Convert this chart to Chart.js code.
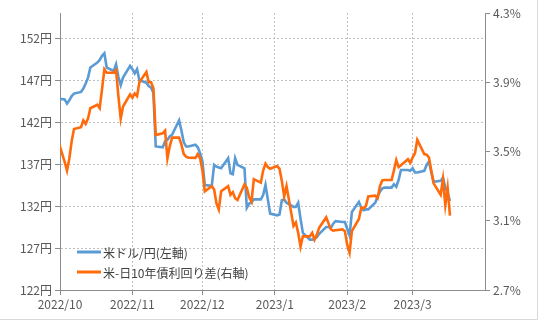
<!DOCTYPE html>
<html><head><meta charset="utf-8">
<script src="https://cdn.jsdelivr.net/npm/chart.js@4.4.1/dist/chart.umd.min.js"></script>
<style>html,body{margin:0;padding:0;background:#fff;}#wrap{width:540px;height:322px;}</style>
</head><body><div id="wrap"><canvas id="c" width="540" height="322"></canvas></div>
<script>
const dates = [
'2022-09-30',
'2022-10-03','2022-10-04','2022-10-05','2022-10-06','2022-10-07',
'2022-10-10','2022-10-11','2022-10-12','2022-10-13','2022-10-14',
'2022-10-17','2022-10-18','2022-10-19','2022-10-20','2022-10-21',
'2022-10-24','2022-10-25','2022-10-26','2022-10-27','2022-10-28',
'2022-10-31','2022-11-01','2022-11-02','2022-11-03','2022-11-04',
'2022-11-07','2022-11-08','2022-11-09','2022-11-10','2022-11-11',
'2022-11-14','2022-11-15','2022-11-16','2022-11-17','2022-11-18',
'2022-11-21','2022-11-22','2022-11-23','2022-11-24','2022-11-25',
'2022-11-28','2022-11-29','2022-11-30','2022-12-01','2022-12-02',
'2022-12-05','2022-12-06','2022-12-07','2022-12-08','2022-12-09',
'2022-12-12','2022-12-13','2022-12-14','2022-12-15','2022-12-16',
'2022-12-19','2022-12-20','2022-12-21','2022-12-22','2022-12-23',
'2022-12-26','2022-12-27','2022-12-28','2022-12-29','2022-12-30',
'2023-01-02','2023-01-03','2023-01-04','2023-01-05','2023-01-06',
'2023-01-09','2023-01-10','2023-01-11','2023-01-12','2023-01-13',
'2023-01-16','2023-01-17','2023-01-18','2023-01-19','2023-01-20',
'2023-01-23','2023-01-24','2023-01-25','2023-01-26','2023-01-27',
'2023-01-30','2023-01-31','2023-02-01','2023-02-02','2023-02-03',
'2023-02-06','2023-02-07','2023-02-08','2023-02-09','2023-02-10',
'2023-02-13','2023-02-14','2023-02-15','2023-02-16','2023-02-17',
'2023-02-20','2023-02-21','2023-02-22','2023-02-23','2023-02-24',
'2023-02-27','2023-02-28','2023-03-01','2023-03-02','2023-03-03',
'2023-03-06','2023-03-07','2023-03-08','2023-03-09','2023-03-10',
'2023-03-13','2023-03-14','2023-03-15','2023-03-16','2023-03-17'
];
const usdJpy = [
144.8,
144.7,144.2,144.6,145.1,145.4,
145.6,146.0,146.6,147.3,148.5,
149.1,149.4,149.9,150.2,148.5,
148.1,148.9,147.4,146.4,147.3,
148.7,148.3,147.8,148.3,147.0,
146.7,146.3,146.1,145.5,139.1,
139.0,139.7,139.9,140.3,140.5,
142.2,141.0,139.6,139.1,139.1,
139.3,139.0,138.3,137.3,134.5,
134.4,136.9,136.7,136.6,136.5,
137.7,135.9,135.8,137.7,136.9,
136.5,131.8,132.3,132.4,132.8,
132.8,133.3,134.5,132.8,131.1,
130.9,131.0,132.7,132.8,132.4,
131.9,131.9,132.4,130.5,128.8,
128.0,128.0,128.1,128.3,128.7,
129.5,129.5,129.4,129.9,130.2,
130.1,130.1,129.3,128.5,131.3,
132.5,131.8,131.5,131.6,131.6,
132.4,133.1,133.7,134.1,134.2,
134.2,134.6,134.3,135.1,136.3,
136.3,136.2,136.5,136.0,136.0,
136.2,136.9,137.3,136.0,134.9,
135.0,135.4,134.2,133.6,132.6
];
const spread = [
3.57,
3.44,3.39,3.46,3.56,3.63,
3.64,3.68,3.66,3.69,3.75,
3.77,3.75,3.86,3.975,3.955,
3.955,3.97,3.82,3.69,3.76,
3.83,3.81,3.835,3.82,3.90,
3.96,3.90,3.90,3.865,3.595,
3.605,3.62,3.46,3.53,3.58,
3.58,3.54,3.485,3.47,3.464,
3.463,3.485,3.461,3.39,3.27,
3.30,3.28,3.20,3.165,3.27,
3.30,3.25,3.265,3.23,3.22,
3.31,3.29,3.235,3.21,3.34,
3.32,3.39,3.43,3.41,3.40,
3.416,3.40,3.33,3.24,3.30,
3.07,3.09,3.03,2.95,3.01,
3.01,3.03,2.99,3.02,3.06,
3.12,3.085,3.05,3.043,3.045,
3.05,3.04,2.96,2.915,3.04,
3.11,3.175,3.172,3.185,3.24,
3.245,3.23,3.30,3.333,3.335,
3.335,3.39,3.45,3.41,3.42,
3.455,3.435,3.465,3.49,3.567,
3.485,3.482,3.465,3.39,3.316,
3.25,3.34,3.19,3.29,3.13
];
const monthTicks = ['2022-10-01','2022-11-01','2022-12-01','2023-01-01','2023-02-01','2023-03-01'];
const monthLabels = ['2022/10','2022/11','2022/12','2023/1','2023/2','2023/3'];
const axisStart = '2022-10-01';
const axisEnd = '2023-04-01';
const yenTicks = [122,127,132,137,142,147,152];
const yenMax = 155;
const spreadTicks = [2.7,3.1,3.5,3.9,4.3];
const seriesNames = ['米ドル/円(左軸)','米-日10年債利回り差(右軸)'];
const seriesColors = ['#5B9BD5','#FF6A0A'];

const ORIGIN = Date.UTC(2022,9,1);
const dayOf = s => { const p = s.split('-').map(Number); return (Date.UTC(p[0],p[1]-1,p[2]) - ORIGIN)/86400000; };
const FONT = "'Noto Sans CJK JP', 'Noto Sans', sans-serif";
const TXT = '#595959';
const GRID = '#c0c0c0';
const AXIS = '#8c8c8c';

const legendPlugin = {
  id: 'inLegend',
  afterDraw(chart) {
    const ctx = chart.ctx;
    const a = chart.chartArea;
    ctx.save();
    ctx.font = '12px ' + FONT;
    ctx.textBaseline = 'middle';
    seriesNames.forEach((n, i) => {
      const y = a.bottom - 38 + i * 20;
      ctx.strokeStyle = seriesColors[i];
      ctx.lineWidth = 3;
      ctx.beginPath(); ctx.moveTo(a.left + 17, y); ctx.lineTo(a.left + 41, y); ctx.stroke();
      ctx.fillStyle = '#404040';
      ctx.fillText(n, a.left + 43, y + 1);
    });
    // outer frame (right & bottom edge)
    ctx.strokeStyle = '#d9d9d9'; ctx.lineWidth = 1;
    ctx.beginPath(); ctx.moveTo(0, 319.5); ctx.lineTo(537.5, 319.5); ctx.lineTo(537.5, 0); ctx.stroke();
    ctx.restore();
  }
};

new Chart(document.getElementById('c'), {
  type: 'line',
  data: {
    datasets: [
      { label: seriesNames[0], data: dates.map((d,i)=>({x: dayOf(d), y: usdJpy[i]})), yAxisID: 'y',
        borderColor: seriesColors[0], borderWidth: 2.6, pointRadius: 0, tension: 0, order: 1 },
      { label: seriesNames[1], data: dates.map((d,i)=>({x: dayOf(d), y: spread[i]})), yAxisID: 'y2',
        borderColor: seriesColors[1], borderWidth: 2.6, pointRadius: 0, tension: 0, order: 0 }
    ]
  },
  options: {
    responsive: false, animation: false, devicePixelRatio: 1,
    layout: { padding: { top: 13, left: 0, right: 0, bottom: 0 } },
    plugins: { legend: { display: false }, tooltip: { enabled: false } },
    scales: {
      x: {
        type: 'linear', min: dayOf(axisStart), max: dayOf(axisEnd),
        afterBuildTicks: s => { s.ticks = monthTicks.map(m => ({ value: dayOf(m) })); },
        afterFit: s => { s.height = 32; },
        ticks: { autoSkip: false, maxRotation: 0, color: TXT, font: { family: FONT, size: 12 }, padding: 2,
                 callback: (v, i) => monthLabels[i] },
        grid: { color: GRID, tickColor: AXIS, tickLength: 5, tickBorderDash: [] },
        border: { color: AXIS, dash: [2, 2] }
      },
      y: {
        position: 'left', min: yenTicks[0], max: yenMax,
        afterBuildTicks: s => { s.ticks = yenTicks.map(v => ({ value: v })); },
        afterFit: s => { s.width = 60; },
        ticks: { color: TXT, font: { family: FONT, size: 12 }, padding: 3, callback: v => v + '円' },
        grid: { color: GRID, tickColor: AXIS, tickLength: 5, tickBorderDash: [] },
        border: { color: AXIS, dash: [2, 2] }
      },
      y2: {
        position: 'right', min: spreadTicks[0], max: spreadTicks[spreadTicks.length-1],
        afterBuildTicks: s => { s.ticks = spreadTicks.map(v => ({ value: v })); },
        afterFit: s => { s.width = 55; },
        ticks: { color: TXT, font: { family: FONT, size: 12 }, padding: 3, callback: v => v.toFixed(1) + '%' },
        grid: { drawOnChartArea: false, tickColor: AXIS, tickLength: 5 },
        border: { color: AXIS }
      }
    }
  },
  plugins: [legendPlugin]
});
</script></body></html>
